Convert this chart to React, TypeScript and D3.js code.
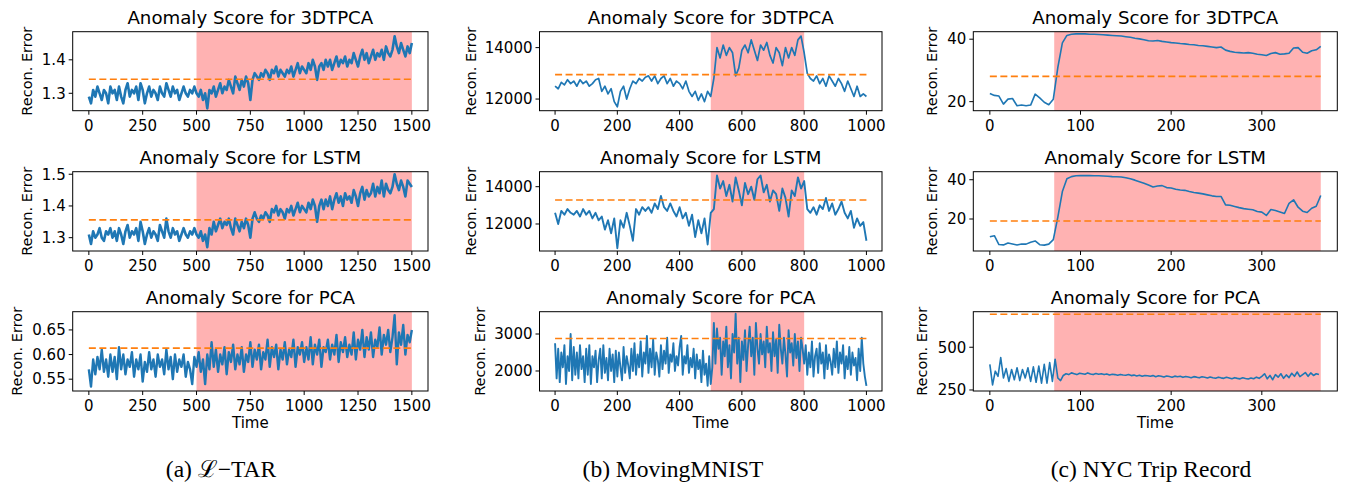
import React from 'react'
import * as d3 from 'd3'

const tarStep = 10
const tar3dtpca = [
  1.29, 1.27, 1.31, 1.29, 1.32, 1.30, 1.28, 1.31, 1.30, 1.27, 1.32,
  1.30, 1.31, 1.28, 1.32, 1.29, 1.27, 1.31, 1.33, 1.29, 1.31,
  1.30, 1.32, 1.28, 1.33, 1.31, 1.27, 1.30, 1.32, 1.29, 1.31,
  1.30, 1.28, 1.32, 1.30, 1.29, 1.33, 1.31, 1.29, 1.32, 1.30,
  1.31, 1.28, 1.30, 1.32, 1.30, 1.29, 1.31, 1.30, 1.32, 1.30,
  1.29, 1.31, 1.28, 1.30, 1.255, 1.31, 1.30, 1.32, 1.29, 1.31,
  1.33, 1.30, 1.32, 1.31, 1.34, 1.32, 1.30, 1.35, 1.33, 1.31,
  1.34, 1.32, 1.35, 1.33, 1.28, 1.34, 1.36, 1.35, 1.34, 1.36,
  1.35, 1.37, 1.36, 1.34, 1.37, 1.36, 1.38, 1.35, 1.37, 1.36,
  1.35, 1.37, 1.36, 1.38, 1.35, 1.37, 1.39, 1.36, 1.38, 1.37,
  1.36, 1.39, 1.37, 1.40, 1.38, 1.34, 1.38, 1.39, 1.37, 1.40,
  1.38, 1.40, 1.37, 1.39, 1.41, 1.38, 1.40, 1.39, 1.41, 1.38,
  1.40, 1.39, 1.42, 1.40, 1.38, 1.41, 1.43, 1.40, 1.42, 1.39,
  1.41, 1.43, 1.40, 1.42, 1.41, 1.43, 1.40, 1.44, 1.42, 1.41,
  1.43, 1.47, 1.44, 1.42, 1.45, 1.43, 1.41, 1.44, 1.42, 1.45,
]
const tarLstm = [
  1.31, 1.28, 1.32, 1.30, 1.31, 1.33, 1.30, 1.29, 1.32, 1.31, 1.33,
  1.30, 1.32, 1.29, 1.33, 1.31, 1.28, 1.32, 1.34, 1.30, 1.32,
  1.31, 1.33, 1.29, 1.35, 1.32, 1.28, 1.31, 1.33, 1.30, 1.32,
  1.31, 1.29, 1.34, 1.32, 1.30, 1.36, 1.32, 1.30, 1.33, 1.31,
  1.32, 1.29, 1.31, 1.33, 1.31, 1.30, 1.32, 1.31, 1.33, 1.31,
  1.30, 1.32, 1.29, 1.31, 1.27, 1.33, 1.31, 1.35, 1.32, 1.34,
  1.36, 1.33, 1.35, 1.34, 1.36, 1.33, 1.31, 1.36, 1.34, 1.32,
  1.35, 1.33, 1.36, 1.34, 1.30, 1.36, 1.38, 1.36, 1.35, 1.37,
  1.36, 1.38, 1.37, 1.35, 1.39, 1.38, 1.40, 1.37, 1.39, 1.38,
  1.36, 1.39, 1.38, 1.40, 1.37, 1.39, 1.41, 1.38, 1.40, 1.39,
  1.38, 1.41, 1.39, 1.42, 1.40, 1.35, 1.40, 1.42, 1.39, 1.42,
  1.40, 1.43, 1.39, 1.42, 1.44, 1.41, 1.43, 1.40, 1.44, 1.42,
  1.43, 1.41, 1.45, 1.43, 1.40, 1.44, 1.46, 1.42, 1.45, 1.43,
  1.44, 1.47, 1.43, 1.46, 1.44, 1.48, 1.43, 1.47, 1.45, 1.44,
  1.46, 1.50, 1.47, 1.45, 1.48, 1.46, 1.43, 1.48, 1.47, 1.46,
]
const tarPca = [
  0.57, 0.535, 0.59, 0.56, 0.595, 0.57, 0.61, 0.565, 0.59, 0.555, 0.60,
  0.565, 0.595, 0.55, 0.615, 0.57, 0.60, 0.56, 0.59, 0.575, 0.605,
  0.555, 0.59, 0.57, 0.60, 0.545, 0.585, 0.565, 0.605, 0.57, 0.59,
  0.555, 0.60, 0.575, 0.59, 0.56, 0.61, 0.57, 0.595, 0.55, 0.60,
  0.565, 0.59, 0.575, 0.60, 0.555, 0.585, 0.57, 0.54, 0.595, 0.575,
  0.605, 0.565, 0.59, 0.54, 0.60, 0.57, 0.625, 0.575, 0.61, 0.565,
  0.60, 0.58, 0.615, 0.56, 0.605, 0.585, 0.62, 0.57, 0.60, 0.58,
  0.615, 0.565, 0.60, 0.585, 0.625, 0.575, 0.61, 0.59, 0.62, 0.57,
  0.605, 0.59, 0.63, 0.575, 0.615, 0.595, 0.62, 0.57, 0.61, 0.59,
  0.625, 0.58, 0.61, 0.595, 0.63, 0.575, 0.615, 0.60, 0.625, 0.585,
  0.615, 0.59, 0.635, 0.58, 0.62, 0.60, 0.63, 0.575, 0.615, 0.605,
  0.63, 0.59, 0.62, 0.60, 0.64, 0.585, 0.625, 0.605, 0.635, 0.595,
  0.62, 0.60, 0.645, 0.59, 0.63, 0.61, 0.65, 0.595, 0.635, 0.61,
  0.645, 0.595, 0.63, 0.615, 0.655, 0.60, 0.64, 0.62, 0.65, 0.605,
  0.635, 0.68, 0.58, 0.645, 0.62, 0.66, 0.60, 0.64, 0.625, 0.65,
]

const mnistStep = 10
const mnist3dtpca = [
  12500, 12400, 12650, 12550, 12750, 12600, 12700, 12500, 12750, 12600, 12700,
  12500, 12600, 12750, 12800, 12300, 12500, 12200, 12400, 11900, 11700,
  12300, 12500, 12000, 12400, 12700, 12600, 12800, 12700, 12850, 12900,
  12700, 12900, 12600, 12800, 12900, 12600, 12800, 12500, 12700, 12600,
  12400, 12700, 12300, 12100, 12300, 11950, 12200, 11900, 12300, 12100,
  12800, 14000, 13600, 14100, 13700, 14000, 13800, 12900, 13200, 13900,
  14100, 13800, 14300, 13900, 13500, 14100, 13900, 14200, 13700, 13400,
  14000, 13800, 13300, 14000, 13600, 14000, 13700, 14300, 14450, 13800,
  13000, 12800, 12700, 12900, 12600, 12800, 12500, 12900, 12700, 12500,
  12800, 12600, 12300, 12700, 12400, 12100, 12500, 12100, 12200, 12100,
]
const mnistLstm = [
  12600, 12000, 12700, 12500, 12800, 12600, 12500, 12700, 12400, 12800, 12500,
  12700, 12300, 12600, 12200, 12400, 11700, 12200, 11500, 12300, 10700,
  12200, 11800, 12600, 11900, 11100, 12800, 12500, 12900, 12700, 12900,
  12600, 13100, 12800, 13500, 12900, 12700, 13100, 12700, 12400, 12900,
  12300, 12600, 11900, 12500, 11300, 12200, 11500, 12300, 10900, 12600,
  12800, 14600, 13900, 14300, 13500, 14100, 13200, 14500, 13800, 13000,
  14200, 13600, 14000, 13300, 14400, 14600, 13700, 14100, 13200, 13800,
  13600, 12700, 13900, 13400, 12400, 13800, 13500, 14500, 13900, 14300,
  12800, 12600, 12900, 12500, 13000, 12800, 13400, 12700, 13100, 12500,
  12800, 13200, 12600, 12300, 12700, 11800, 12300, 11900, 12100, 11100,
]
const mnistPcaStep = 5
const mnistPca = [
  2750, 1800, 2600, 1700, 2500, 2100, 2700, 1650, 2400, 2000, 3000, 1750, 2650, 1900, 2500, 1800, 2700, 2050, 2400, 1700,
  2600, 1900, 2700, 1650, 2400, 2100, 2550, 1700, 2300, 2600, 1800, 2700, 1950, 2350, 1750, 2600, 2000, 2450, 1700, 2550,
  1850, 2500, 2100, 1750, 2650, 1950, 2400, 2150, 1800, 2600, 2000, 2750, 1900, 2450, 2100, 2800, 1850, 2500, 2200, 2950,
  1950, 2600, 2100, 2850, 1900, 2500, 2300, 1850, 2700, 2050, 2550, 2200, 2900, 1950, 2450, 2250, 2750, 2000, 2400, 2150,
  2650, 2950, 1900, 2400, 2200, 2700, 1950, 2350, 2100, 2600, 1800, 2450, 2050, 2300, 1700, 2550, 1900, 2200, 1600, 2400,
  1650, 2100, 3300, 2200, 3150, 2600, 2900, 1900, 2800, 2400, 3200, 2100, 2700, 1800, 3000, 2500, 3550, 2200, 2900, 1700,
  2800, 2300, 3100, 2000, 2700, 3200, 2400, 2900, 1900, 3300, 2600, 2200, 3000, 2450, 2800, 2100, 3200, 2500, 2750, 2000,
  3050, 2400, 2850, 1950, 3250, 2600, 2200, 2900, 2450, 1850, 3100, 2500, 2750, 2150, 3000, 2350, 2800, 2000, 2900, 2600,
  2200, 2700, 1900, 2500, 2100, 2800, 1850, 2400, 2600, 1950, 2750, 2200, 2500, 1800, 2700, 2050, 2450, 2250, 1900, 2600,
  2100, 2800, 1950, 2500, 2200, 2700, 1800, 2400, 2050, 2650, 1900, 2500, 2150, 2350, 1750, 2600, 2000, 2900, 2200, 1850,
  1600,
]

const nycStep = 5
const nyc3dtpca = [
  22.6, 22.0, 21.8, 19.2, 20.8, 21.0, 18.7, 18.9, 18.7, 18.9, 22.4, 21.2, 19.8, 19.0, 20.8,
  31.0, 38.8, 41.2, 41.6, 41.7, 41.7, 41.7, 41.6, 41.6, 41.5, 41.4, 41.3, 41.2, 41.1, 41.0,
  40.8, 40.6, 40.3, 40.1, 39.8, 39.5, 39.4, 39.6, 39.3, 39.1, 38.9, 38.8, 38.6, 38.5, 38.3,
  38.2, 38.0, 37.9, 37.7, 37.5, 37.3, 37.5, 36.5, 36.1, 35.8, 35.7, 35.6, 35.7, 35.5, 35.2,
  35.0, 34.8, 35.4, 35.7, 35.2, 35.3, 35.5, 37.2, 37.3, 35.8, 35.5, 36.3, 36.6, 37.7,
]
const nycLstm = [
  11.0, 11.5, 7.0, 6.8, 7.8, 7.3, 6.8, 7.3, 7.2, 8.2, 8.8, 6.9, 6.7, 7.2, 9.5,
  21.0, 34.0, 40.5, 41.6, 42.0, 42.1, 42.1, 42.1, 42.0, 42.0, 41.9, 41.8, 41.6, 41.5, 41.4,
  41.0, 40.5, 39.8, 39.0, 38.2, 37.3, 36.3, 36.8, 37.0, 36.0, 35.8, 35.2, 34.8, 34.6, 34.0,
  33.5, 33.2, 32.8, 32.3, 31.8, 31.5, 31.5, 27.2, 27.0, 26.4, 25.8, 25.3, 25.0, 24.7, 23.8,
  23.5, 21.8, 24.8, 24.3, 23.6, 22.8, 28.0, 29.8, 26.0, 24.0, 23.3, 25.5, 26.5, 32.0,
]
const nycPcaStep = 3
const nycPca = [
  400, 280, 360, 330, 440, 320, 375, 300, 370, 310,
  380, 305, 370, 320, 380, 300, 385, 295, 390, 290,
  400, 290, 410, 300, 430, 320, 305, 335, 345, 340,
  350, 345, 340, 348, 345, 342, 350, 344, 340, 346,
  342, 345, 340, 344, 338, 342, 340, 336, 341, 338,
  336, 340, 334, 337, 332, 336, 330, 335, 333, 330,
  334, 328, 333, 330, 326, 332, 329, 325, 331, 327,
  330, 324, 329, 326, 322, 328, 325, 321, 327, 324,
  320, 326, 322, 319, 325, 321, 318, 324, 320, 316,
  322, 318, 315, 321, 317, 314, 320, 316, 325, 318,
  330, 345, 315, 335, 310, 340, 325, 345, 318, 338,
  322, 348, 330, 355, 328, 340, 352, 330, 350, 335,
  345, 340,
]

// thresholds (dashed orange) and anomalous window (red band)
const tarThresholds = [1.342, 1.356, 0.613]
const mnistThresholds = [12950, 13290, 2880]
const nycThresholds = [28.1, 19.0, 693]
const tarWindow = [500, 1500]
const mnistWindow = [500, 800]
const nycWindow = [71, 365]

const models = ['3DTPCA', 'LSTM', 'PCA']
const captions = ['(a) \u2112\u2212TAR', '(b) MovingMNIST', '(c) NYC Trip Record']

const tarXTicks = [0, 250, 500, 750, 1000, 1250, 1500]
const mnistXTicks = [0, 200, 400, 600, 800, 1000]
const nycXTicks = [0, 100, 200, 300]
const tarYTicks = [[1.3, 1.4], [1.3, 1.4, 1.5], [0.55, 0.6, 0.65]]
const mnistYTicks = [[12000, 14000], [12000, 14000], [2000, 3000]]
const nycYTicks = [[20, 40], [20, 40], [250, 500]]

const columns = [
  {
    left: 72.7, right: 428, xDomain: [-75, 1575], xTicks: tarXTicks, end: 1500, window: tarWindow,
    labelX: [27, 27, 16.5], yFmt: ['.1f', '.1f', '.2f'], thresholds: tarThresholds, yTicks: tarYTicks,
    series: [[tar3dtpca, tarStep], [tarLstm, tarStep], [tarPca, tarStep]], widths: [2.6, 2.6, 2.4],
    yDomains: [[1.248, 1.484], [1.258, 1.508], [0.526, 0.687]], captionX: 221,
  },
  {
    left: 539.5, right: 882, xDomain: [-50, 1050], xTicks: mnistXTicks, end: 1000, window: mnistWindow,
    labelX: [470.7, 470.7, 480], yFmt: ['d', 'd', 'd'], thresholds: mnistThresholds, yTicks: mnistYTicks,
    series: [[mnist3dtpca, mnistStep], [mnistLstm, mnistStep], [mnistPca, mnistPcaStep]], widths: [1.7, 1.9, 1.9],
    yDomains: [[11547, 14619], [10552, 14804], [1459, 3603]], captionX: 673,
  },
  {
    left: 973.3, right: 1337.3, xDomain: [-18.25, 383.25], xTicks: nycXTicks, end: 365, window: nycWindow,
    labelX: [932, 932, 921.7], yFmt: ['d', 'd', 'd'], thresholds: nycThresholds, yTicks: nycYTicks,
    series: [[nyc3dtpca, nycStep], [nycLstm, nycStep], [nycPca, nycPcaStep]], widths: [1.6, 1.6, 1.6],
    yDomains: [[17.1, 42.4], [3.7, 44.1], [244, 708]], captionX: 1151,
  },
]
const rows = [
  { top: 31.7, bottom: 110.7 },
  { top: 171.7, bottom: 251 },
  { top: 311.7, bottom: 391 },
]

const sans = 'DejaVu Sans, sans-serif'

function Panel({ col, r }: { col: any; r: number }) {
  const row = rows[r]
  const x = d3.scaleLinear().domain(col.xDomain).range([col.left, col.right])
  const y = d3.scaleLinear().domain(col.yDomains[r]).range([row.bottom, row.top])
  const [values, step] = col.series[r]
  const pts: [number, number][] = values.map((v: number, i: number) => [i * step, v])
  const line = d3
    .line<[number, number]>()
    .x(d => x(d[0]))
    .y(d => y(d[1]))
  const fmt = d3.format(col.yFmt[r])
  const cx = (col.left + col.right) / 2
  const cy = (row.top + row.bottom) / 2
  return (
    <g>
      <rect
        x={x(col.window[0])}
        y={row.top}
        width={x(col.window[1]) - x(col.window[0])}
        height={row.bottom - row.top}
        fill="#ffb2b2"
      />
      <path d={line(pts) || ''} fill="none" stroke="#1f77b4" strokeWidth={col.widths[r]} strokeLinejoin="round" />
      <line
        x1={x(0)}
        x2={x(col.end)}
        y1={y(col.thresholds[r])}
        y2={y(col.thresholds[r])}
        stroke="#ff7f0e"
        strokeWidth={1.6}
        strokeDasharray="7,3.5"
      />
      <rect
        x={col.left}
        y={row.top}
        width={col.right - col.left}
        height={row.bottom - row.top}
        fill="none"
        stroke="#000"
        strokeWidth={1}
      />
      {col.xTicks.map((t: number) => (
        <g key={'x' + t}>
          <line x1={x(t)} x2={x(t)} y1={row.bottom} y2={row.bottom + 4} stroke="#000" />
          <text x={x(t)} y={row.bottom + 20} textAnchor="middle" fontSize={15} fontFamily={sans}>
            {t}
          </text>
        </g>
      ))}
      {col.yTicks[r].map((t: number) => (
        <g key={'y' + t}>
          <line x1={col.left - 4} x2={col.left} y1={y(t)} y2={y(t)} stroke="#000" />
          <text x={col.left - 7} y={y(t) + 5.3} textAnchor="end" fontSize={15} fontFamily={sans}>
            {fmt(t)}
          </text>
        </g>
      ))}
      <text x={cx} y={row.top - 7.5} textAnchor="middle" fontSize={18.2} fontFamily={sans}>
        {'Anomaly Score for ' + models[r]}
      </text>
      <text
        transform={`translate(${col.labelX[r]},${cy}) rotate(-90)`}
        textAnchor="middle"
        dominantBaseline="central"
        fontSize={14.5}
        fontFamily={sans}
      >
        Recon. Error
      </text>
      {r === 2 && (
        <text x={cx} y={row.bottom + 37} textAnchor="middle" fontSize={15} fontFamily={sans}>
          Time
        </text>
      )}
    </g>
  )
}

export default function App() {
  return (
    <div style={{ position: 'absolute', left: 0, top: 0 }}>
      <svg width={1347} height={489} style={{ display: 'block', background: '#fff' }}>
        {columns.map((col, c) => (
          <g key={c}>
            {rows.map((_, r) => (
              <Panel key={r} col={col} r={r} />
            ))}
            <text
              x={col.captionX}
              y={477}
              textAnchor="middle"
              fontSize={23.5}
              fontFamily="Liberation Serif, serif"
            >
              {captions[c]}
            </text>
          </g>
        ))}
      </svg>
    </div>
  )
}
